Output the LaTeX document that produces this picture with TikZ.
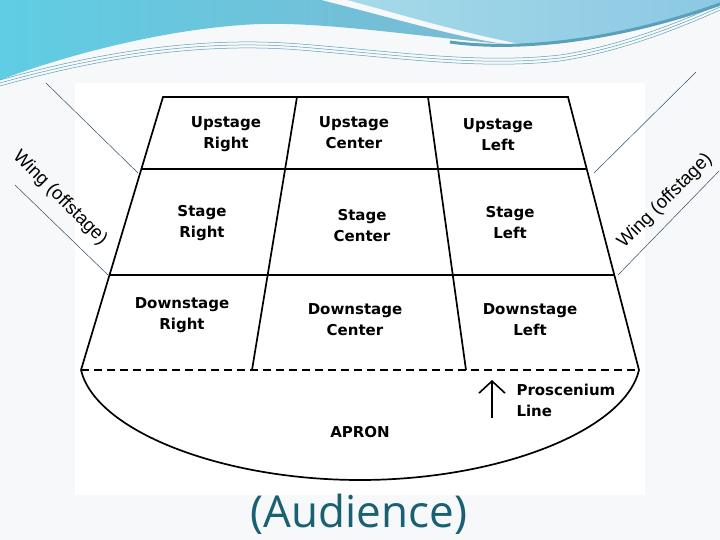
\documentclass[tikz,border=0pt]{standalone}
\usepackage{fontspec}
\setmainfont{DejaVu Sans}
\newfontfamily\wingfont{Liberation Sans}
\newfontfamily\audfont{Open Sans}
\usetikzlibrary{positioning,calc,arrows.meta}
\definecolor{slidebg}{RGB}{247,248,249}
\definecolor{swooshdark}{RGB}{122,186,210}
\definecolor{swooshcyan}{RGB}{95,205,228}
\definecolor{swooshlight}{RGB}{165,218,232}
\definecolor{swooshblue}{RGB}{140,200,228}
\definecolor{audteal}{RGB}{24,96,114}
\definecolor{wingline}{RGB}{45,75,105}
\definecolor{swooshline}{RGB}{90,160,185}

\begin{document}
\begin{tikzpicture}[x=1pt,y=-1pt]
\tikzstyle{area} = [font=\bfseries\fontsize{15}{21}\selectfont, align=center] % stage area labels
\tikzstyle{wing} = [font=\wingfont\fontsize{18.5}{20}\selectfont] % wing (offstage) text
\tikzstyle{rim} = [line width=1.7pt] % stage outline
\tikzstyle{guide} = [wingline, line width=0.5pt] % thin wing guide lines

\useasboundingbox (0,0) rectangle (720,540);
\fill[slidebg] (0,0) rectangle (720,540);
% swoosh at the top of the slide
\shade[left color=swooshcyan, right color=swooshdark]
  (0,0) -- (321,0) .. controls (400,20) and (460,38) .. (505,44)
  .. controls (430,38) and (330,22) .. (260,24)
  .. controls (180,27) and (80,50) .. (0,80) -- cycle;
\shade[left color=swooshlight, right color=swooshblue]
  (347,0) -- (720,0) -- (720,6) .. controls (650,30) and (580,44) .. (520,44)
  .. controls (450,30) and (400,14) .. (347,0) -- cycle;
\draw[swooshline, line width=3pt] (450,42) .. controls (520,52) and (620,40) .. (720,4);
\foreach \dy in {0,3,6}
  \draw[swooshline, line width=0.5pt] (0,{80+\dy}) .. controls (100,{52+\dy}) and (200,{36+\dy}) .. (300,{44+\dy})
    .. controls (400,{52+\dy}) and (480,{64+\dy}) .. (560,{55+\dy}) .. controls (620,{46+\dy}) and (680,{22+\dy}) .. (720,{4+\dy});
\fill[white] (75,83) rectangle (645,495);

% stage corners and dividers
\coordinate (tl) at (163,97);
\coordinate (tr) at (568,97);
\coordinate (bl) at (81,370);
\coordinate (br) at (639,370);
\coordinate (d1t) at (297,97);
\coordinate (d1b) at (252,370);
\coordinate (d2t) at (428,97);
\coordinate (d2b) at (466,370);
\coordinate (apronlow) at (360,480);

\draw[rim] (bl) -- (tl) -- (tr) -- (br);
\draw[rim, line width=2.4pt] ($(tl)!0.264!(bl)$) -- ($(tr)!0.264!(br)$);
\draw[rim] ($(tl)!0.652!(bl)$) -- ($(tr)!0.652!(br)$);
\draw[rim] (d1t) -- (d1b);
\draw[rim] (d2t) -- (d2b);
\draw[rim, dash pattern=on 8pt off 5pt] (bl) -- (br); % proscenium line
\draw[rim] (bl) .. controls (95,430) and (220,480) .. (apronlow)
  .. controls (500,480) and (625,430) .. (br); % apron

% wing guide lines
\coordinate (wl1a) at (46,83);
\coordinate (wl1b) at (138,173);
\coordinate (wl2a) at (15,185);
\coordinate (wl2b) at (108,275);
\coordinate (wr1a) at (696,72);
\coordinate (wr1b) at (594,173);
\coordinate (wr2a) at (719,171);
\coordinate (wr2b) at (618,275);
\draw[guide] (wl1a) -- (wl1b);
\draw[guide] (wl2a) -- (wl2b);
\draw[guide] (wr1a) -- (wr1b);
\draw[guide] (wr2a) -- (wr2b);

% stage areas
\node[area] (ur) at (226,134) {Upstage\\Right};
\node[area] (uc) at (354,133) {Upstage\\Center};
\node[area] (ul) at (498,135) {Upstage\\Left};
\node[area] (sr) at (202,223) {Stage\\Right};
\node[area] (sc) at (362,226) {Stage\\Center};
\node[area] (sl) at (510,223) {Stage\\Left};
\node[area] (dr) at (182,315) {Downstage\\Right};
\node[area] (dc) at (355,320) {Downstage\\Center};
\node[area] (dl) at (530,320) {Downstage\\Left};
\node[area] (apron) at (360,432) {APRON};

% proscenium
\coordinate (pa) at (492,418);
\coordinate (pb) at (492,380);
\draw[line width=1.6pt, -{Straight Barb[length=12pt,width=26pt]}] (pa) -- (pb);
\node[area, align=left, anchor=west] (pros) at (513,400) {Proscenium\\Line};

\node[wing, rotate=-45] (wingl) at (60,198) {Wing (offstage)};
\node[wing, rotate=45] (wingr) at (665,201) {Wing (offstage)};

\node[font=\audfont\fontsize{44}{48}\selectfont, text=audteal] (aud) at (359,514) {(Audience)};
\end{tikzpicture}
\end{document}
